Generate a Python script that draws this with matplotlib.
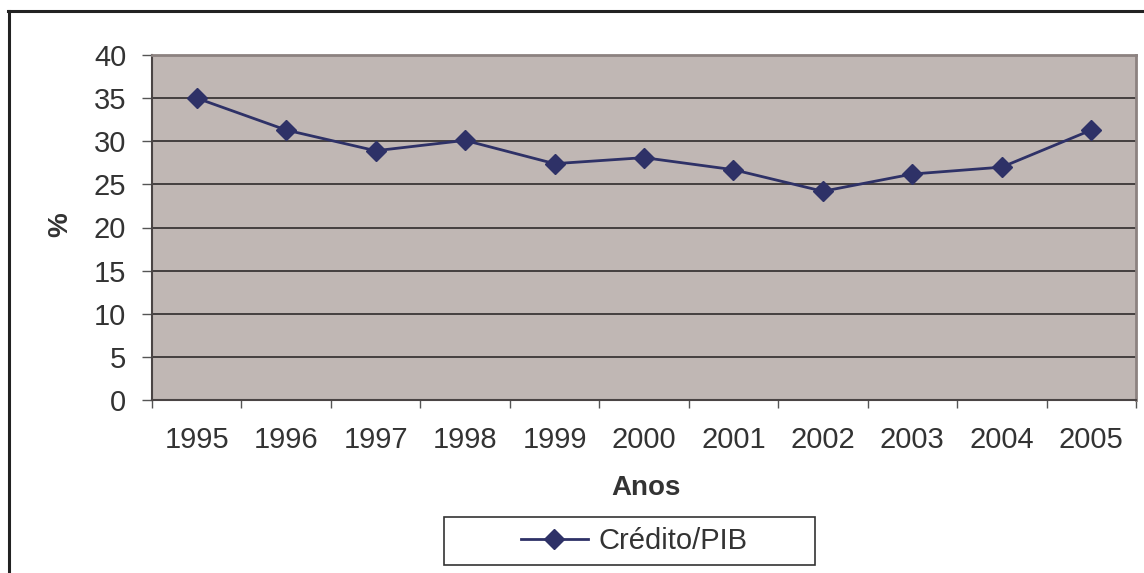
import matplotlib
matplotlib.use('Agg')
import matplotlib.pyplot as plt
from matplotlib.lines import Line2D
from matplotlib.patches import Rectangle

# dados
anos = ['1995', '1996', '1997', '1998', '1999', '2000',
        '2001', '2002', '2003', '2004', '2005']
credito_pib = [35.0, 31.3, 28.9, 30.1, 27.4, 28.1, 26.7, 24.2, 26.2, 27.0, 31.3]
y_ticks = [0, 5, 10, 15, 20, 25, 30, 35, 40]

cor_fundo = '#c0b7b4'
cor_linha = '#2e3167'
cor_texto = '#333333'

plt.rcParams['font.family'] = ['Liberation Sans', 'DejaVu Sans']

fig = plt.figure(figsize=(11.44, 5.73), dpi=100)
W, H = 1144.0, 573.0

# moldura externa (parte de cima e esquerda)
fig.add_artist(Line2D([8 / W, 1.0], [1 - 11 / H, 1 - 11 / H], transform=fig.transFigure,
                      color='#222222', lw=2.2))
fig.add_artist(Line2D([8.5 / W, 8.5 / W], [0, 1 - 11 / H], transform=fig.transFigure,
                      color='#222222', lw=2.2))

ax = fig.add_axes([152 / W, 1 - 400 / H, (1136 - 152) / W, (400 - 55) / H])
ax.set_facecolor(cor_fundo)

x = list(range(len(anos)))
ax.plot(x, credito_pib, color=cor_linha, lw=2, marker='D', markersize=10,
        markerfacecolor=cor_linha, markeredgecolor=cor_linha, label='Crédito/PIB', zorder=3)

ax.set_xlim(-0.5, len(anos) - 0.5)
ax.set_ylim(0, 40)
ax.set_yticks(y_ticks)
ax.set_yticklabels([str(v) for v in y_ticks])
ax.set_xticks(x)
ax.set_xticklabels(anos)
ax.set_xticks([i - 0.5 for i in range(len(anos) + 1)], minor=True)

for v in y_ticks[1:]:
    ax.axhline(v, color='#3a3636', lw=1.3, zorder=1)

ax.tick_params(axis='y', direction='out', length=7.5, width=1, color='#555555',
               labelsize=21, labelcolor=cor_texto, pad=11)
ax.tick_params(axis='x', which='major', length=0, labelsize=21, labelcolor=cor_texto, pad=19)
ax.tick_params(axis='x', which='minor', direction='out', length=6, width=1, color='#555555')

for s in ['top', 'right']:
    ax.spines[s].set_color('#8c8280')
    ax.spines[s].set_linewidth(2)
ax.spines['left'].set_color('#4a4444')
ax.spines['left'].set_linewidth(1.5)
ax.spines['bottom'].set_color('#4a4444')
ax.spines['bottom'].set_linewidth(1.5)

fig.text(646 / W, 1 - 488 / H, 'Anos', ha='center', va='center', fontsize=20,
         fontweight='bold', color=cor_texto)
fig.text(60 / W, 1 - 225 / H, '%', ha='center', va='center', fontsize=20,
         fontweight='bold', color=cor_texto, rotation=90)

# caixa da legenda
fig.add_artist(Rectangle((444 / W, 1 - 565 / H), (815 - 444) / W, (565 - 517) / H,
                         transform=fig.transFigure, fill=False, edgecolor='#333333', lw=1.2))
leg = fig.legend(loc='center', bbox_to_anchor=(634 / W, 1 - 541 / H), fontsize=21,
                 frameon=False, handlelength=2.3, handletextpad=0.35, borderaxespad=0)
for t in leg.get_texts():
    t.set_color(cor_texto)

fig.savefig('out.png', dpi=100, facecolor='white')
